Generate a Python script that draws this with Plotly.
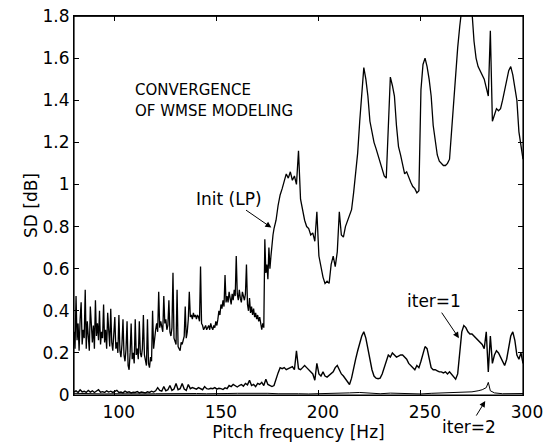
import numpy as np
import plotly.graph_objects as go

# ---------------- data ----------------
# Init (LP): 0.5 Hz steps from 80 to 177.5 Hz
init_lo_sd = [
    0.30, 0.22, 0.47, 0.26, 0.34, 0.21, 0.36, 0.44, 0.24, 0.31,
    0.27, 0.50, 0.22, 0.35, 0.28, 0.21, 0.42, 0.30, 0.25, 0.33,
    0.22, 0.45, 0.28, 0.34, 0.26, 0.40, 0.24, 0.30, 0.27, 0.43,
    0.25, 0.31, 0.22, 0.39, 0.27, 0.23, 0.41, 0.25, 0.21, 0.28,
    0.37, 0.22, 0.25, 0.20, 0.38, 0.21, 0.18, 0.24, 0.36, 0.19,
    0.16, 0.22, 0.35, 0.14, 0.12, 0.20, 0.34, 0.17, 0.20, 0.15,
    0.36, 0.19, 0.22, 0.17, 0.35, 0.20, 0.18, 0.22, 0.38, 0.19,
    0.17, 0.14, 0.36, 0.15, 0.13, 0.18, 0.16, 0.40, 0.22, 0.28,
    0.31, 0.34, 0.30, 0.49, 0.32, 0.35, 0.33, 0.30, 0.47, 0.34,
    0.36, 0.31, 0.33, 0.45, 0.30, 0.28, 0.32, 0.58, 0.27, 0.25,
    0.24, 0.50, 0.23, 0.22, 0.21, 0.25, 0.24, 0.26, 0.28, 0.42,
    0.27, 0.30, 0.36, 0.49, 0.37, 0.38, 0.36, 0.39, 0.37, 0.38,
    0.36, 0.38, 0.37, 0.35, 0.61, 0.34, 0.33, 0.31, 0.32, 0.33,
    0.31, 0.32, 0.33, 0.31, 0.34, 0.32, 0.31, 0.33, 0.32, 0.35,
    0.33, 0.36, 0.40, 0.38, 0.43, 0.41, 0.45, 0.42, 0.57, 0.44,
    0.47, 0.44, 0.49, 0.46, 0.43, 0.48, 0.45, 0.50, 0.47, 0.66,
    0.48, 0.45, 0.50, 0.46, 0.44, 0.49, 0.47, 0.45, 0.48, 0.62,
    0.43, 0.40, 0.46, 0.39, 0.42, 0.38, 0.41, 0.37, 0.39, 0.36,
    0.38, 0.35, 0.37, 0.33, 0.31, 0.34, 0.32, 0.74, 0.58, 0.62,
    0.55, 0.70, 0.60, 0.66, 0.72, 0.76,
]
# Init (LP): 1 Hz steps from 178 to 300 Hz
init_hi_sd = [
    0.79, 0.83, 0.90, 0.95, 0.98, 1.02, 1.05, 1.03, 1.06, 1.02,   # 178-187
    1.04, 1.00, 1.16, 0.93, 0.88, 0.83, 0.80, 0.79, 0.76, 0.77,   # 188-197
    0.73, 0.87, 0.66, 0.60, 0.56, 0.53, 0.54, 0.53, 0.62, 0.66,   # 198-207
    0.61, 0.68, 0.87, 0.76, 0.75, 0.80, 0.83, 0.86, 0.88, 0.96,   # 208-217
    1.05, 1.15, 1.30, 1.45, 1.555, 1.50, 1.42, 1.30, 1.24, 1.20,  # 218-227
    1.17, 1.14, 1.10, 1.07, 1.04, 1.03, 1.30, 1.51, 1.47, 1.42,   # 228-237
    1.28, 1.18, 1.14, 1.10, 1.05, 1.06, 1.03, 1.01, 0.99, 0.98,   # 238-247
    0.96, 0.97, 1.45, 1.57, 1.60, 1.56, 1.50, 1.42, 1.28, 1.20,   # 248-257
    1.14, 1.11, 1.10, 1.09, 1.09, 1.10, 1.12, 1.25, 1.42, 1.55,   # 258-267
    1.65, 1.75, 1.85, 1.92, 1.96, 1.95, 1.90, 1.82, 1.68, 1.60,   # 268-277
    1.56, 1.54, 1.52, 1.50, 1.46, 1.42, 1.73, 1.30, 1.33, 1.36,   # 278-287
    1.35, 1.36, 1.40, 1.45, 1.50, 1.54, 1.56, 1.52, 1.46, 1.40,   # 288-297
    1.25, 1.18, 1.12,                                             # 298-300
]
# iter=1: 1 Hz steps from 80 to 300 Hz
iter1_sd = [
    0.015, 0.02, 0.012, 0.025, 0.015, 0.018, 0.012, 0.022, 0.014, 0.02,
    0.012, 0.018, 0.025, 0.013, 0.016, 0.012, 0.02, 0.014, 0.018, 0.012,
    0.016, 0.022, 0.012, 0.014, 0.01, 0.018, 0.012, 0.015, 0.01, 0.013,
    0.012, 0.016, 0.01, 0.014, 0.012, 0.01, 0.015, 0.012, 0.018, 0.014,
    0.02, 0.035, 0.022, 0.018, 0.04, 0.02, 0.025, 0.045, 0.022, 0.028,
    0.055, 0.025, 0.03, 0.055, 0.028, 0.022, 0.05, 0.03, 0.035, 0.032,
    0.028, 0.035, 0.03, 0.025, 0.04, 0.03, 0.028, 0.032, 0.03, 0.035,
    0.028, 0.032, 0.03, 0.026, 0.034, 0.03, 0.045, 0.04, 0.05, 0.042,
    0.038, 0.045, 0.05, 0.042, 0.055, 0.048, 0.07, 0.045, 0.05, 0.04,
    0.055, 0.05, 0.06, 0.045, 0.075, 0.05, 0.045, 0.04, 0.045, 0.08,
    0.105, 0.13, 0.125, 0.13, 0.12, 0.125, 0.13, 0.135, 0.12, 0.21,
    0.125, 0.12, 0.13, 0.14, 0.13, 0.12, 0.11, 0.10, 0.07, 0.15,
    0.10, 0.09, 0.11, 0.09, 0.085, 0.095, 0.10, 0.11, 0.13, 0.14,
    0.12, 0.10, 0.09, 0.075, 0.06, 0.05, 0.08, 0.13, 0.17, 0.21,
    0.25, 0.28, 0.30, 0.27, 0.22, 0.17, 0.12, 0.09, 0.08, 0.077,
    0.08, 0.10, 0.13, 0.17, 0.19, 0.18, 0.20, 0.19, 0.18, 0.185,
    0.19, 0.19, 0.18, 0.17, 0.15, 0.14, 0.13, 0.12, 0.14, 0.13,
    0.16, 0.20, 0.23, 0.22, 0.17, 0.13, 0.12, 0.12, 0.115, 0.11,
    0.11, 0.105, 0.11, 0.10, 0.11, 0.10, 0.09, 0.075, 0.10, 0.22,
    0.30, 0.33, 0.32, 0.30, 0.29, 0.29, 0.28, 0.27, 0.26, 0.25,
    0.24, 0.22, 0.30, 0.11, 0.28, 0.15, 0.19, 0.21, 0.20, 0.18,
    0.16, 0.14, 0.17, 0.23, 0.28, 0.30, 0.26, 0.19, 0.17, 0.20, 0.15,
]
# iter=2
iter2_freq = [80, 85, 90, 95, 100, 105, 110, 115, 120, 125, 130, 135, 140, 145,
              150, 155, 160, 165, 170, 175, 180, 185, 190, 195, 200, 205, 210,
              215, 220, 225, 230, 235, 240, 245, 250, 255, 260, 265, 270, 275,
              278, 280, 282, 283, 284, 286, 290, 295, 300]
iter2_sd = [0.008, 0.006, 0.007, 0.005, 0.006, 0.005, 0.004, 0.005, 0.006, 0.007,
            0.008, 0.006, 0.007, 0.006, 0.008, 0.007, 0.008, 0.009, 0.007, 0.008,
            0.006, 0.007, 0.006, 0.005, 0.006, 0.008, 0.006, 0.01, 0.012, 0.008,
            0.006, 0.009, 0.007, 0.006, 0.005, 0.008, 0.01, 0.009, 0.012, 0.015,
            0.02, 0.025, 0.035, 0.06, 0.02, 0.01, 0.006, 0.008, 0.007]

x_ticks = [100, 150, 200, 250, 300]
y_ticks = [0, 0.2, 0.4, 0.6, 0.8, 1.0, 1.2, 1.4, 1.6, 1.8]
y_tick_text = ["0", "0.2", "0.4", "0.6", "0.8", "1", "1.2", "1.4", "1.6", "1.8"]

# frequency grids
init_freq = np.concatenate([np.arange(len(init_lo_sd)) * 0.5 + 80.0,
                            np.arange(len(init_hi_sd)) * 1.0 + 178.0])
init_sd = init_lo_sd + init_hi_sd
iter1_freq = np.arange(len(iter1_sd)) * 1.0 + 80.0

FONT = "DejaVu Sans"

fig = go.Figure()
fig.add_trace(go.Scatter(x=init_freq, y=init_sd, mode="lines",
                         line=dict(color="black", width=1.3), showlegend=False))
fig.add_trace(go.Scatter(x=iter1_freq, y=iter1_sd, mode="lines",
                         line=dict(color="black", width=1.4), showlegend=False))
fig.add_trace(go.Scatter(x=iter2_freq, y=iter2_sd, mode="lines",
                         line=dict(color="black", width=1.0), showlegend=False))

axis_common = dict(showgrid=False, zeroline=False, showline=True, linecolor="black",
                   linewidth=1, mirror="allticks", ticks="inside", ticklen=5,
                   tickcolor="black", automargin=False, ticklabeloverflow="allow",
                   tickfont=dict(family=FONT, size=17, color="black"))

fig.update_xaxes(range=[80, 300], tickvals=x_ticks, ticklabelshift=4,
                 ticklabelstandoff=2,
                 title=dict(text="Pitch frequency [Hz]", standoff=4,
                            font=dict(family=FONT, size=17, color="black")),
                 **axis_common)
fig.update_yaxes(range=[0, 1.8], tickvals=y_ticks, ticktext=y_tick_text,
                 title=dict(text="SD [dB]", standoff=0,
                            font=dict(family=FONT, size=17, color="black")),
                 **axis_common)

# frame around the plotting area (top edge drawn separately and a bit heavier)
fig.add_shape(type="rect", xref="paper", yref="paper", x0=0, y0=0, x1=1, y1=1,
              line=dict(color="black", width=1.2), layer="above")
fig.add_shape(type="line", xref="paper", yref="paper", x0=0, y0=1, x1=1, y1=1,
              line=dict(color="black", width=1.6), layer="above")

ann_font = dict(family=FONT, size=17, color="black")
fig.add_annotation(x=176.7, y=0.795, xref="x", yref="y", text="Init (LP)",
                   showarrow=True, ax=-42, ay=-29, arrowhead=2, arrowsize=1.2,
                   arrowwidth=1, arrowcolor="black", font=ann_font)
fig.add_annotation(x=268.6, y=0.27, xref="x", yref="y", text="iter=1",
                   showarrow=True, ax=-25, ay=-37, arrowhead=2, arrowsize=1.2,
                   arrowwidth=1, arrowcolor="black", font=ann_font)
fig.add_annotation(x=281.5, y=-0.016, xref="x", yref="paper", text="iter=2",
                   showarrow=True, ax=-16, ay=26, arrowhead=2, arrowsize=1.2,
                   arrowwidth=1, arrowcolor="black", font=ann_font)

small_font = dict(family=FONT, size=15, color="black")
fig.add_annotation(x=0.131, y=1.45, xref="paper", yref="y", text="CONVERGENCE",
                   showarrow=False, xanchor="left", yanchor="middle", font=small_font)
fig.add_annotation(x=0.131, y=1.35, xref="paper", yref="y", text="OF WMSE MODELING",
                   showarrow=False, xanchor="left", yanchor="middle", font=small_font)

fig.update_layout(width=546, height=444, margin=dict(l=74, r=23, t=16, b=49),
                  plot_bgcolor="white", paper_bgcolor="white",
                  font=dict(family=FONT, color="black"))

# remove the default page margin so the figure sits at the window's corner
fig.write_html("out.html", config={"displayModeBar": False},
               post_script="document.body.style.margin='0';"
                           "document.body.style.overflow='hidden';")
